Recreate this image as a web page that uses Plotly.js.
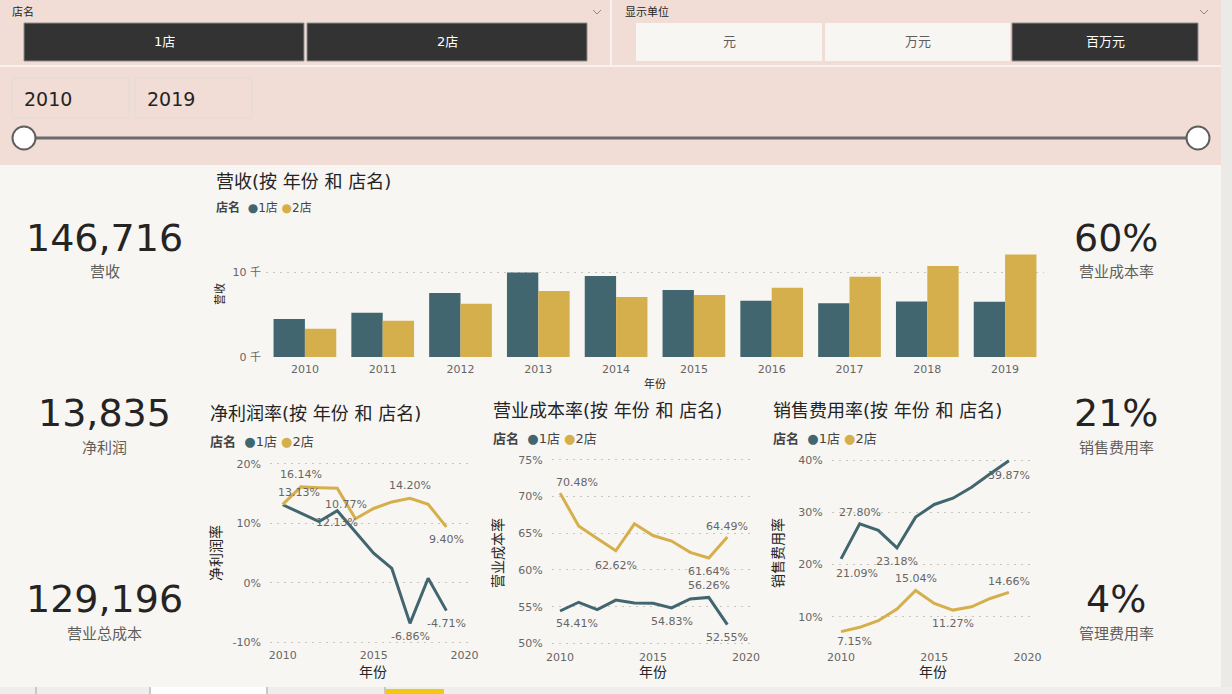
<!DOCTYPE html>
<html>
<head>
<meta charset="utf-8">
<script src="https://cdn.plot.ly/plotly-3.0.1.min.js"></script>
<style>
html,body{margin:0;padding:0;background:#F8F6F2;}
#chart{width:1232px;height:694px;}
</style>
</head>
<body>
<div id="chart"></div>
<script>
// ---------- DATA ----------
const years = [2010, 2011, 2012, 2013, 2014, 2015, 2016, 2017, 2018, 2019];
const yearLabels = ['2010','2011','2012','2013','2014','2015','2016','2017','2018','2019'];
const stores = ['1店', '2店'];
const revenue1 = [4470, 5200, 7530, 9950, 9530, 7880, 6620, 6310, 6540, 6500];
const revenue2 = [3330, 4270, 6270, 7760, 7060, 7290, 8150, 9450, 10700, 12070];
const revTickVals = [0, 10000];
const revTickText = ['0 千', '10 千'];
const netMargin1 = [13.13, 11.7, 10.3, 12.13, 8.6, 4.96, 2.4, -6.86, 0.74, -4.71];
const netMargin2 = [13.2, 16.14, 16.0, 15.9, 10.77, 12.5, 13.6, 14.20, 13.2, 9.40];
const costRate1 = [54.41, 55.6, 54.6, 55.9, 55.5, 55.45, 54.83, 56.05, 56.26, 52.55];
const costRate2 = [70.48, 66.0, 64.3, 62.62, 66.3, 64.7, 63.95, 62.4, 61.64, 64.49];
const salesRate1 = [21.09, 27.80, 26.55, 23.18, 29.08, 31.5, 32.7, 34.8, 37.37, 39.87];
const salesRate2 = [7.15, 7.97, 9.24, 11.47, 15.04, 12.55, 11.27, 11.9, 13.5, 14.66];
const netTicks = [-10, 0, 10, 20];
const costTicks = [50, 55, 60, 65, 70, 75];
const salesTicks = [10, 20, 30, 40];
const kpiLeftValues = ['146,716', '13,835', '129,196'];
const kpiLeftLabels = ['营收', '净利润', '营业总成本'];
const kpiRightValues = ['60%', '21%', '4%'];
const kpiRightLabels = ['营业成本率', '销售费用率', '管理费用率'];
const unitOptions = ['元', '万元', '百万元'];
const yearRange = ['2010', '2019'];

// ---------- STYLE ----------
const W = 1232, H = 694;
const px = x => x / W, py = y => 1 - y / H;
const C1 = '#41666F', C2 = '#D4AF4B';
const FONT = 'DejaVu Sans, Noto Sans CJK SC, sans-serif';
const DARK = '#252423', GRAY = '#605E5C', GRID = '#C9C6C2';
const GRIDDASH = '2px,5px';

const shapes = [];
const annotations = [];
function rect(x0, y0, x1, y1, fill, line, lw, layer) {
  shapes.push({type:'rect', xref:'paper', yref:'paper', x0:px(x0), x1:px(x1), y0:py(y1), y1:py(y0),
    fillcolor:fill, line:{color:line || 'rgba(0,0,0,0)', width:lw || 0}, layer:layer || 'below'});
}
function txt(x, y, text, size, color, xanchor, extra) {
  annotations.push(Object.assign({xref:'paper', yref:'paper', x:px(x), y:py(y), text:text, showarrow:false,
    xanchor:xanchor || 'center', yanchor:'middle', font:{size:size, color:color, family:FONT}}, extra || {}));
}
function pathShape(pts, color, w) {
  const d = pts.map((p, i) => (i ? 'L ' : 'M ') + px(p[0]) + ' ' + py(p[1])).join(' ');
  shapes.push({type:'path', xref:'paper', yref:'paper', path:d, line:{color:color, width:w}, layer:'above'});
}

// Backgrounds
rect(0, 0, 1221, 165, '#F1DDD6');
rect(0, 65, 1221, 67, '#F8F2EF');
rect(610, 0, 612, 65, '#F8F2EF');
rect(1221, 0, 1232, 687, '#ECEAE7');
rect(0, 687, 1232, 694, '#EFEEEC');
rect(150, 687, 267, 694, '#FFFFFF');
[36, 150, 267, 385].forEach(x => rect(x - 1, 687, x + 1, 694, '#C8C8C8'));
rect(386, 689, 444, 694, '#F2C811');

// Store slicer
txt(10, 12, '店名', 11, DARK, 'left');
pathShape([[593, 10], [597, 14], [601, 10]], '#8A8886', 1);
rect(24, 23, 304, 61, '#333333', '#8E8E8E', 1);
rect(307, 23, 587, 61, '#333333', '#8E8E8E', 1);
txt(164, 42, stores[0], 13, '#FFFFFF');
txt(447, 42, stores[1], 13, '#FFFFFF');

// Unit slicer
txt(623, 12, '显示单位', 11, DARK, 'left');
pathShape([[1200, 10], [1204, 14], [1208, 10]], '#8A8886', 1);
const unitBoxes = [[636, 822], [825, 1010], [1012, 1198]];
unitBoxes.forEach((b, i) => {
  const sel = i === 2;
  rect(b[0], 23, b[1], 61, sel ? '#333333' : '#F8F6F2', sel ? '#8E8E8E' : null, sel ? 1 : 0);
  txt((b[0] + b[1]) / 2, 42, unitOptions[i], 13, sel ? '#FFFFFF' : GRAY);
});

// Year range slicer
rect(12, 78, 129, 118, 'rgba(0,0,0,0)', '#E6DCD7', 1.5);
rect(135, 78, 252, 118, 'rgba(0,0,0,0)', '#E6DCD7', 1.5);
txt(22, 99, yearRange[0], 19, DARK, 'left');
txt(145, 99, yearRange[1], 19, DARK, 'left');
shapes.push({type:'line', xref:'paper', yref:'paper', x0:px(24), x1:px(1198), y0:py(138), y1:py(138),
  line:{color:'#6B6B6B', width:3}, layer:'above'});
[24, 1198].forEach(cx => shapes.push({type:'circle', xref:'paper', yref:'paper',
  x0:px(cx - 11.5), x1:px(cx + 11.5), y0:py(149.5), y1:py(126.5),
  fillcolor:'#FFFFFF', line:{color:'#5F5F5F', width:2}, layer:'above'}));

// KPI cards
const kpiY = [[238, 272], [413, 448], [599, 634]];
kpiLeftValues.forEach((v, i) => {
  txt(105, kpiY[i][0], v, 38, DARK);
  txt(105, kpiY[i][1], kpiLeftLabels[i], 15, GRAY);
});
kpiRightValues.forEach((v, i) => {
  txt(1116, kpiY[i][0], v, 38, DARK);
  txt(1116, kpiY[i][1], kpiRightLabels[i], 15, GRAY);
});

// Chart titles / legends
function legendText() {
  return '<b>店名</b>  <span style="color:' + C1 + '">●</span>' + stores[0] +
         ' <span style="color:' + C2 + '">●</span>' + stores[1];
}
txt(214, 181, '营收(按 年份 和 店名)', 18, DARK, 'left');
txt(214, 208, legendText(), 12, '#444', 'left');
txt(220, 294, '营收', 11, DARK, 'center', {textangle:-90});
txt(655, 384, '年份', 11, DARK);

const lineCharts = [
  {title:'净利润率(按 年份 和 店名)', ytitle:'净利润率', tx:208, ty:413, ly:441, ytx:216, xtx:373},
  {title:'营业成本率(按 年份 和 店名)', ytitle:'营业成本率', tx:491, ty:410, ly:438, ytx:498, xtx:653},
  {title:'销售费用率(按 年份 和 店名)', ytitle:'销售费用率', tx:771, ty:410, ly:438, ytx:778, xtx:933}
];
lineCharts.forEach(c => {
  txt(c.tx, c.ty, c.title, 18, DARK, 'left');
  txt(c.tx, c.ly, legendText(), 13, '#444', 'left');
  txt(c.ytx, 553, c.ytitle, 14, DARK, 'center', {textangle:-90});
  txt(c.xtx, 672, '年份', 14, DARK);
});

// ---------- TRACES ----------
const traces = [
  {type:'bar', x:yearLabels, y:revenue1, name:stores[0], marker:{color:C1}, xaxis:'x', yaxis:'y'},
  {type:'bar', x:yearLabels, y:revenue2, name:stores[1], marker:{color:C2}, xaxis:'x', yaxis:'y'}
];
const lineSeries = [
  {ax:'2', s:[netMargin1, netMargin2]},
  {ax:'3', s:[costRate1, costRate2]},
  {ax:'4', s:[salesRate1, salesRate2]}
];
lineSeries.forEach(ls => {
  ls.s.forEach((vals, k) => traces.push({type:'scatter', mode:'lines', x:years, y:vals, name:stores[k],
    line:{color:k ? C2 : C1, width:3}, xaxis:'x' + ls.ax, yaxis:'y' + ls.ax}));
});

// Data labels: [chart index, series index, year index, xshift, yshift]
const labelSpecs = [
  [0,0,0,16,12],[0,1,1,0,12],[0,0,3,0,-12],[0,1,4,-9,14],[0,1,7,0,13],[0,0,7,0,-13],[0,1,9,0,-13],[0,0,9,0,-13],
  [1,1,0,17,11],[1,1,3,0,-15],[1,1,8,0,-14],[1,1,9,0,11],[1,0,8,0,12],[1,0,0,17,-13],[1,0,6,0,-14],[1,0,9,0,-13],
  [2,0,1,0,11],[2,0,0,16,-15],[2,0,3,0,-14],[2,0,9,0,-15],[2,1,4,0,12],[2,1,6,0,-13],[2,1,9,0,11],[2,1,0,13,-10]
];
labelSpecs.forEach(sp => {
  const ls = lineSeries[sp[0]];
  const v = ls.s[sp[1]][sp[2]];
  annotations.push({xref:'x' + ls.ax, yref:'y' + ls.ax, x:years[sp[2]], y:v, text:v.toFixed(2) + '%',
    showarrow:false, xanchor:'center', yanchor:'middle', xshift:sp[3], yshift:sp[4],
    font:{size:11, color:'#666666', family:FONT}});
});

// ---------- LAYOUT ----------
const tickFont = {size:11, color:'#666666', family:FONT};
function lineX(d0, d1, r0, r1, anchor) {
  return {domain:[px(d0), px(d1)], range:[r0, r1], anchor:anchor, tickvals:[2010, 2015, 2020],
    showgrid:false, zeroline:false, showline:false, ticks:'', tickfont:tickFont, ticklabelstandoff:2};
}
function lineY(top, bottom, r0, r1, tv, anchor) {
  return {domain:[py(bottom), py(top)], range:[r0, r1], anchor:anchor, tickmode:'array', tickvals:tv,
    ticktext:tv.map(v => v + '%'),
    showgrid:true, gridcolor:GRID, griddash:GRIDDASH, gridwidth:1, zeroline:false, showline:false, ticks:'',
    tickfont:tickFont, ticklabelstandoff:8};
}
const layout = {
  width:W, height:H, margin:{l:0, r:0, t:0, b:0}, paper_bgcolor:'#F8F6F2', plot_bgcolor:'rgba(0,0,0,0)',
  font:{family:FONT, color:DARK}, showlegend:false, hovermode:false,
  barmode:'group', bargap:0.194, bargroupgap:0,
  xaxis:{domain:[px(266), px(1044)], type:'category', anchor:'y', showgrid:false, zeroline:false,
    showline:false, ticks:'', tickfont:tickFont, ticklabelstandoff:4},
  yaxis:{domain:[py(357), py(250.75)], range:[0, 12500], anchor:'x', tickmode:'array', tickvals:revTickVals,
    ticktext:revTickText, showgrid:true, gridcolor:GRID, griddash:GRIDDASH, zeroline:false, showline:false,
    ticks:'', tickfont:tickFont, ticklabelstandoff:4},
  xaxis2:lineX(270, 470, 2009.3, 2020.3, 'y2'),
  yaxis2:lineY(461, 645, -10.5, 20.5, netTicks, 'x2'),
  xaxis3:lineX(551.7, 753, 2009.55, 2020.38, 'y3'),
  yaxis3:lineY(456.3, 647, 49.5, 75.5, costTicks, 'x3'),
  xaxis4:lineX(831.7, 1033.3, 2009.5, 2020.31, 'y4'),
  yaxis4:lineY(457.5, 647, 4.2, 40.5, salesTicks, 'x4'),
  shapes:shapes, annotations:annotations
};
Plotly.newPlot('chart', traces, layout, {staticPlot:true, displayModeBar:false});
</script>
</body>
</html>
